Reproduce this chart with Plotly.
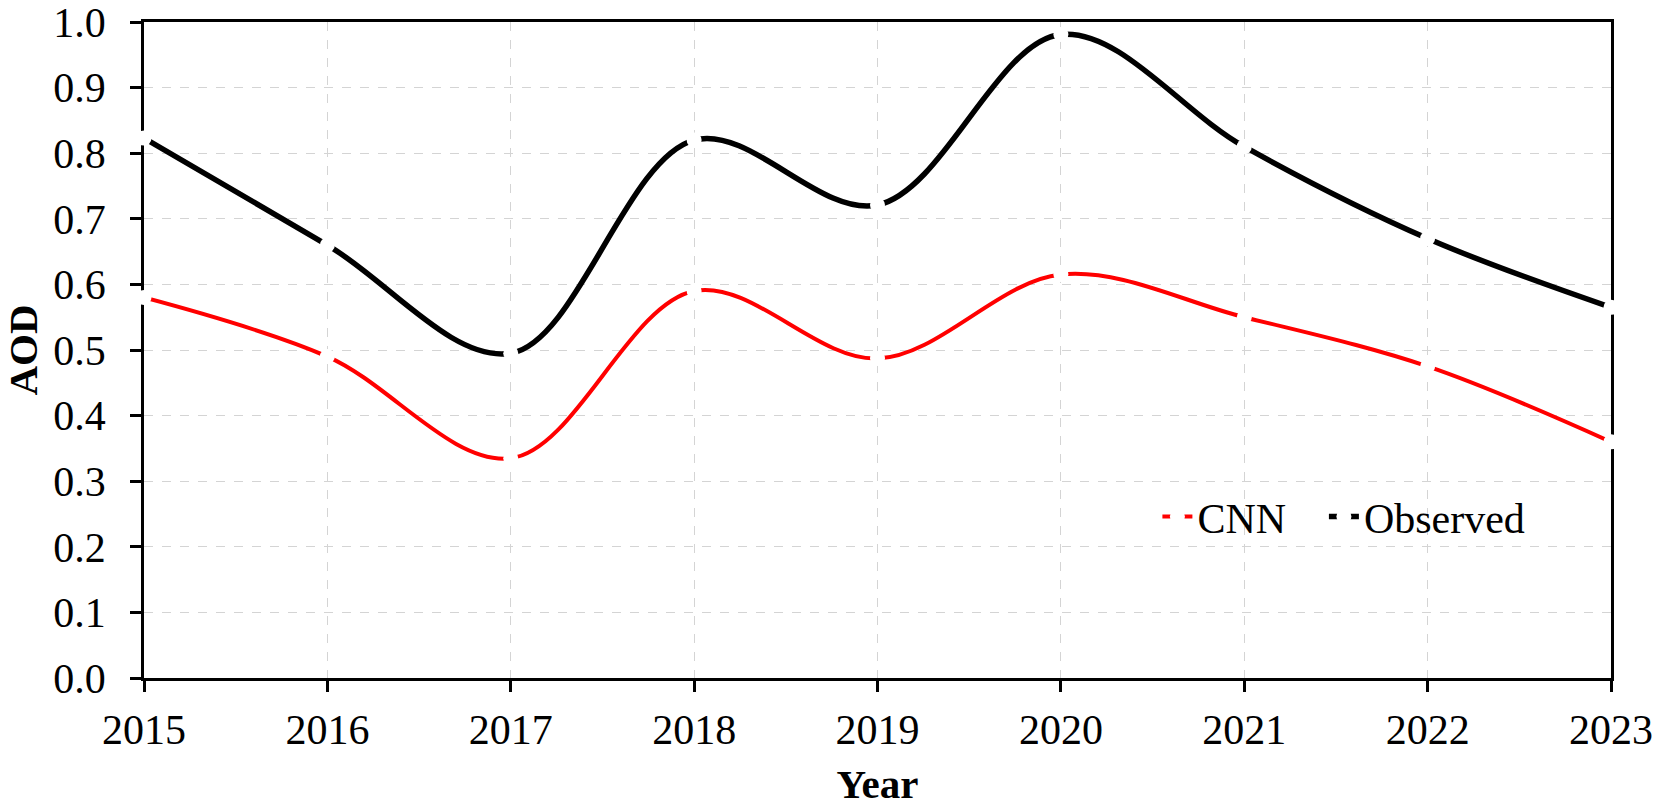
import plotly.graph_objects as go

years = [2015, 2016, 2017, 2018, 2019, 2020, 2021, 2022, 2023]
cnn = [0.58, 0.49, 0.335, 0.59, 0.487, 0.615, 0.55, 0.475, 0.36]
observed = [0.823, 0.66, 0.495, 0.82, 0.721, 0.981, 0.81, 0.67, 0.565]
y_ticks = [0.0, 0.1, 0.2, 0.3, 0.4, 0.5, 0.6, 0.7, 0.8, 0.9, 1.0]

FONT = "Liberation Serif, Times New Roman, serif"

fig = go.Figure()
fig.add_trace(go.Scatter(
    x=years, y=cnn, name="CNN", mode="lines+markers",
    line=dict(color="#ff0000", width=4, shape="spline", smoothing=1),
    marker=dict(symbol="circle", size=15, color="white", line=dict(width=0)),
    cliponaxis=False, legend="legend",
))
fig.add_trace(go.Scatter(
    x=years, y=observed, name="Observed", mode="lines+markers",
    line=dict(color="#000000", width=5.5, shape="spline", smoothing=1),
    marker=dict(symbol="circle", size=15, color="white", line=dict(width=0)),
    cliponaxis=False, legend="legend2",
))

axis_common = dict(
    showline=True, linecolor="black", linewidth=2.5, mirror=True,
    ticks="outside", ticklen=11, tickwidth=2.5, tickcolor="black",
    showgrid=True, gridcolor="#d4d4d4", gridwidth=1, griddash="dash",
    zeroline=False, layer="below traces", automargin=False,
    ticklabeloverflow="allow",
    tickfont=dict(family=FONT, size=42, color="black"),
)

fig.update_xaxes(
    range=[2015, 2023], tickmode="array", tickvals=years,
    ticktext=[str(y) for y in years],
    title=dict(text="<b>Year</b>", font=dict(family=FONT, size=41, color="black"), standoff=22),
    ticklabelstandoff=2,
    **axis_common,
)
fig.update_yaxes(
    range=[0, 1.0], tickmode="array", tickvals=y_ticks,
    ticktext=[f"{v:.1f}" for v in y_ticks],
    title=dict(text="<b>AOD</b>", font=dict(family=FONT, size=41, color="black"), standoff=40),
    ticklabelstandoff=16,
    **axis_common,
)

legend_common = dict(
    orientation="h", yanchor="middle", xanchor="left",
    font=dict(family=FONT, size=42, color="black"),
    bgcolor="rgba(0,0,0,0)",
)

fig.update_layout(
    width=1654, height=807,
    margin=dict(l=144, r=43, t=22, b=129),
    paper_bgcolor="white", plot_bgcolor="white",
    font=dict(family=FONT, color="black"),
    showlegend=True,
    legend=dict(x=0.6908, y=0.246, **legend_common),
    legend2=dict(x=0.8043, y=0.246, **legend_common),
)

fig.write_html(
    "out.html",
    config={"displayModeBar": False},
    post_script="document.body.style.margin='0';",
)
